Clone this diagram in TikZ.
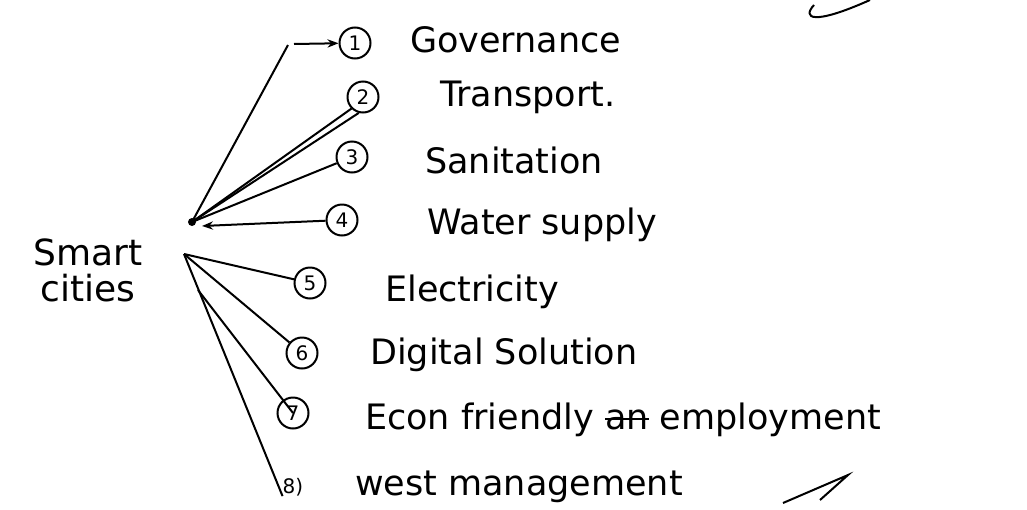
\documentclass[tikz,border=0pt]{standalone}
\usepackage{fontspec}
\setmainfont{DejaVu Sans}
\usepackage{tikz}
\usetikzlibrary{positioning, arrows.meta, calc}

\newcommand{\strikeword}[1]{{\setbox0\hbox{#1}\rlap{\rule[0.27em]{\wd0}{2pt}}\box0}}

\tikzset{
  num/.style={draw, circle, line width=2pt, minimum size=31pt, inner sep=0pt,
              font=\fontsize{20}{20}\selectfont},
  item/.style={anchor=west, inner sep=0pt, font=\fontsize{35}{37}\selectfont},
  link/.style={line width=2pt},
}

\begin{document}
\begin{tikzpicture}[x=1pt, y=-1pt]
  \useasboundingbox (0,0) rectangle (1027,509);
  % hub
  \node[align=center, inner sep=0pt, font=\fontsize{36}{36}\selectfont] (hub) at (88,270) {Smart\\cities};
  \coordinate (root) at (192,222);
  \coordinate (fork) at (184,254);
  \fill (root) circle (4pt);
  % numbers
  \node[num] (n1) at (355,43) {1};
  \node[num] (n2) at (363,97) {2};
  \node[num] (n3) at (352,157) {3};
  \node[num] (n4) at (342,220) {4};
  \node[num] (n5) at (310,283) {5};
  \node[num] (n6) at (302,353) {6};
  \node[num] (n7) at (293,413) {7};
  \node[inner sep=0pt, font=\fontsize{20}{20}\selectfont] (n8) at (293,487) {8)};
  % items
  \node[item] (t1) at (410,40) {Governance};
  \node[item] (t2) at (440,97) {Transport.};
  \node[item] (t3) at (425,160) {Sanitation};
  \node[item] (t4) at (427,225) {Water supply};
  \node[item] (t5) at (385,292) {Electricity};
  \node[item] (t6) at (370,355) {Digital Solution};
  \node[item] (t7) at (365,420) {Econ friendly \strikeword{an} employment};
  \node[item] (t8) at (355,487) {west management};
  % connectors
  \coordinate (bend) at (288,45);
  \draw[link] (root) -- (bend);
  \draw[link, -{Stealth[length=11pt]}] ($(bend)+(6,-1)$) -- (n1);
  \draw[link] (root) -- (n2.225);
  \draw[link] (root) -- (n2.255);
  \draw[link] (root) -- (n3);
  \draw[link, {Stealth[length=11pt]}-] ($(root)+(10,4)$) -- (n4);
  \draw[link] (fork) -- (n5);
  \draw[link] (fork) -- (n6);
  \draw[link] ($(fork)+(14,36)$) -- (n7.center);
  \draw[link] (fork) -- (n8.south west);
  % pen marks
  \draw[link] (814,5) .. controls (802,18) and (812,26) .. (870,0);
  \draw[link] (783,503) -- (848,475) -- (820,500);
\end{tikzpicture}
\end{document}
